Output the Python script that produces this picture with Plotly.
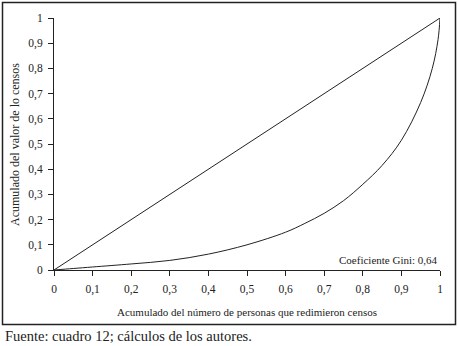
import plotly.graph_objects as go

# Lorenz curve data
pop_cum = [0, 0.05, 0.1, 0.2, 0.3, 0.4, 0.5, 0.6, 0.65, 0.7, 0.75, 0.8, 0.85, 0.9, 0.95, 0.98, 0.995, 1.0]
val_cum = [0, 0.006, 0.012, 0.024, 0.038, 0.063, 0.10, 0.150, 0.185, 0.225, 0.275, 0.34, 0.415, 0.515, 0.665, 0.80, 0.915, 1.0]

# Line of equality
eq_x = [0, 1]
eq_y = [0, 1]

tick_vals = [0, 0.1, 0.2, 0.3, 0.4, 0.5, 0.6, 0.7, 0.8, 0.9, 1]
tick_text = ["0", "0,1", "0,2", "0,3", "0,4", "0,5", "0,6", "0,7", "0,8", "0,9", "1"]

x_title = "Acumulado del número de personas que redimieron censos"
y_title = "Acumulado del valor de lo censos"
gini_text = "Coeficiente Gini: 0,64"
source_text = "Fuente: cuadro 12; cálculos de los autores."

FONT = "Liberation Serif, Times New Roman, serif"

fig = go.Figure()
fig.add_trace(go.Scatter(x=eq_x, y=eq_y, mode="lines",
                         line=dict(color="#222222", width=1), showlegend=False))
fig.add_trace(go.Scatter(x=pop_cum, y=val_cum, mode="lines", line_shape="spline",
                         line=dict(color="#222222", width=1, smoothing=1), showlegend=False))

W, H = 458, 346
L, R, T, B = 54, 18, 18, 76
pw, ph = W - L - R, H - T - B

def px_x(p):
    return (p - L) / pw

def px_y(p):
    return (H - B - p) / ph

axis_common = dict(range=[0, 1], tickvals=tick_vals, ticktext=tick_text,
                   showgrid=False, zeroline=False, showline=True, linecolor="#222222",
                   linewidth=1, ticks="outside", ticklen=5, tickcolor="#222222",
                   tickfont=dict(size=11.5), fixedrange=True, ticklabelstandoff=3)

fig.update_layout(
    width=W, height=H,
    margin=dict(l=L, r=R, t=T, b=B),
    paper_bgcolor="white", plot_bgcolor="white",
    font=dict(family=FONT, size=11, color="#222222"),
    xaxis=axis_common,
    yaxis=axis_common,
    shapes=[dict(type="rect", xref="paper", yref="paper",
                 x0=px_x(2.5), x1=px_x(455.5), y0=px_y(324.5), y1=px_y(2.5),
                 line=dict(color="#222222", width=1.5), fillcolor="rgba(0,0,0,0)")],
    annotations=[
        dict(text=x_title, xref="paper", yref="paper", x=0.5, y=px_y(312),
             xanchor="center", yanchor="middle", showarrow=False,
             font=dict(size=11)),
        dict(text=y_title, xref="paper", yref="paper", x=px_x(15), y=px_y(145),
             xanchor="center", yanchor="middle", showarrow=False, textangle=-90,
             font=dict(size=12)),
        dict(text=gini_text, xref="paper", yref="paper", x=1.0, y=px_y(260),
             xanchor="right", yanchor="middle", showarrow=False,
             font=dict(size=11)),
        dict(text=source_text, xref="paper", yref="paper", x=px_x(3), y=px_y(336),
             xanchor="left", yanchor="middle", showarrow=False,
             font=dict(size=14.5)),
    ],
)

fig.write_html("out.html", config={"displayModeBar": False},
               post_script="document.body.style.margin='0';document.body.style.overflow='hidden';")
